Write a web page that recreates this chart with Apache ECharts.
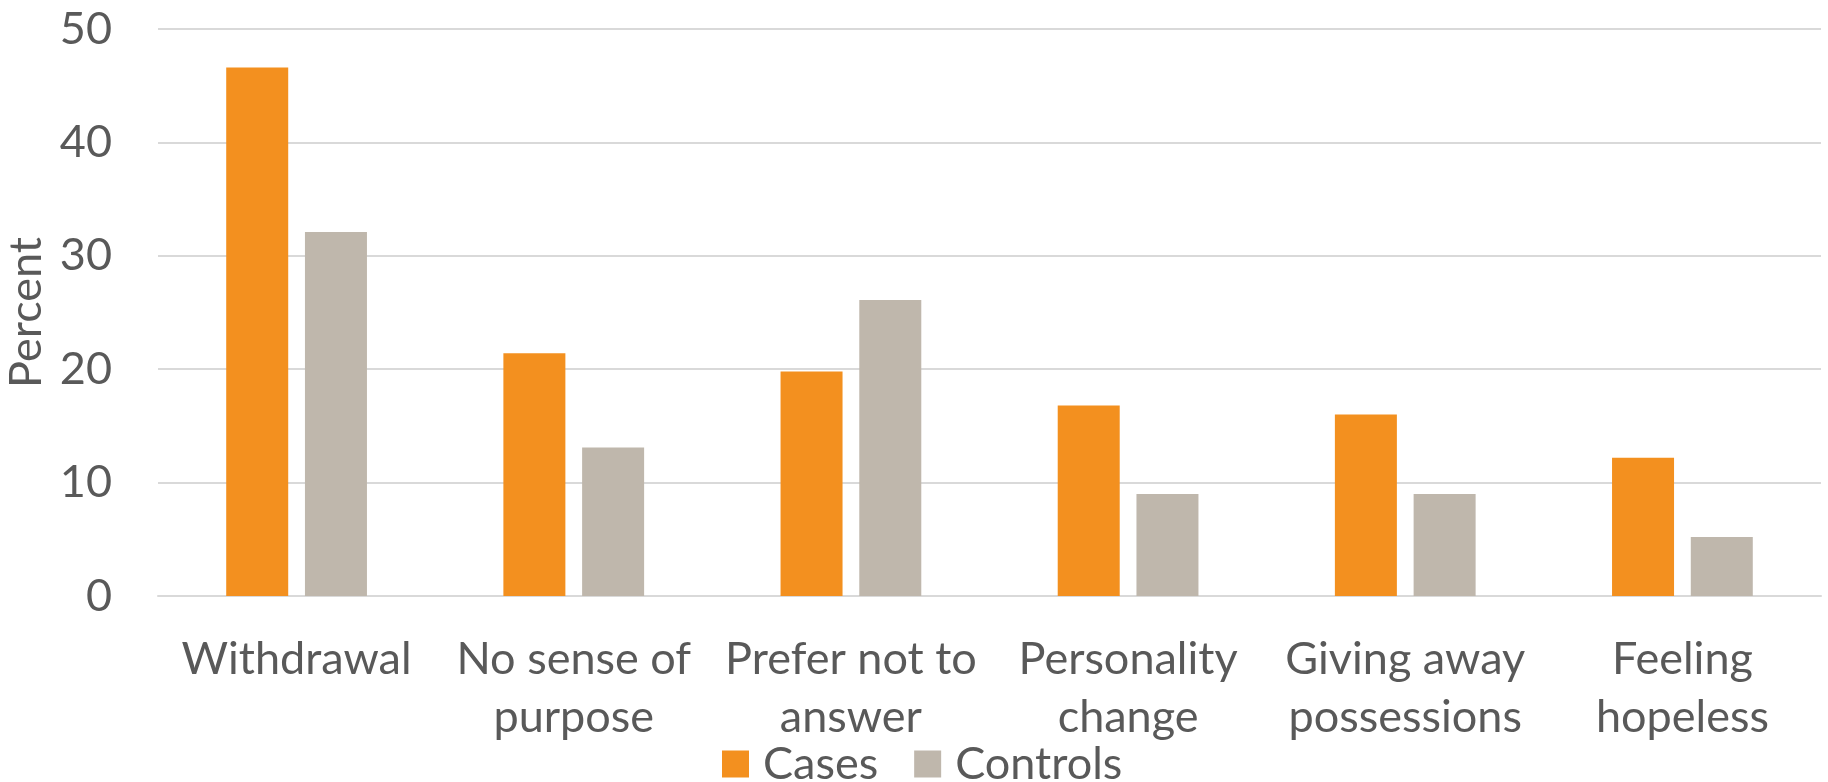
<!DOCTYPE html>
<html>
<head>
<meta charset="utf-8">
<script src="https://cdn.jsdelivr.net/npm/echarts@6/dist/echarts.min.js"></script>
<style>html,body{margin:0;padding:0;background:#fff}#c{width:1828px;height:782px}</style>
</head>
<body>
<div id="c"></div>
<script>
const categories = ["Withdrawal", "No sense of\npurpose", "Prefer not to\nanswer", "Personality\nchange", "Giving away\npossessions", "Feeling\nhopeless"];
const cases = [46.6, 21.4, 19.8, 16.8, 16.0, 12.2];
const controls = [32.1, 13.1, 26.1, 9.0, 9.0, 5.2];
const yTicks = { min: 0, max: 50, interval: 10 };

const FONT = 'Lato, "Open Sans", sans-serif';
const TXT = '#595959';
const chart = echarts.init(document.getElementById('c'), null, { renderer: 'canvas' });
chart.setOption({
  animation: false,
  backgroundColor: '#ffffff',
  grid: { left: 158, right: 7, top: 29, bottom: 186, containLabel: false, outerBoundsMode: 'none' },
  legend: {
    data: ['Cases', 'Controls'],
    left: 717, top: 735,
    itemWidth: 27, itemHeight: 27, itemGap: 36,
    icon: 'rect',
    textStyle: { fontFamily: FONT, fontSize: 45, color: TXT, padding: [0, 0, 0, 9], lineHeight: 48 }
  },
  xAxis: {
    type: 'category',
    data: categories,
    axisLine: { show: true, lineStyle: { color: '#D9D9D9', width: 2 } },
    axisTick: { show: false },
    axisLabel: { fontFamily: FONT, fontSize: 45, color: TXT, margin: 34, lineHeight: 58, interval: 0, align: 'center' }
  },
  yAxis: {
    type: 'value',
    min: yTicks.min, max: yTicks.max, interval: yTicks.interval,
    name: 'Percent',
    nameLocation: 'middle',
    nameGap: 108,
    nameTextStyle: { fontFamily: FONT, fontSize: 45, color: TXT },
    axisLine: { show: false },
    axisTick: { show: false },
    splitLine: { lineStyle: { color: '#D9D9D9', width: 2 } },
    axisLabel: { fontFamily: FONT, fontSize: 45, color: TXT, margin: 46 }
  },
  series: [
    { name: 'Cases', type: 'bar', data: cases, barWidth: 62, barGap: '27%', itemStyle: { color: '#F3901F' } },
    { name: 'Controls', type: 'bar', data: controls, barWidth: 62, itemStyle: { color: '#BFB7AC' } }
  ]
});
</script>
</body>
</html>
